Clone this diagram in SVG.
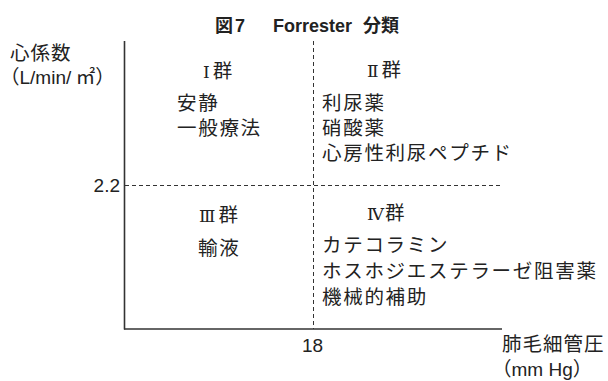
<svg xmlns="http://www.w3.org/2000/svg" width="608" height="381" viewBox="0 0 608 381">
<style>
text{font-family:"Liberation Sans","Noto Sans CJK JP",sans-serif;fill:#222;font-size:19px}
.jp{font-family:"Noto Sans CJK JP",sans-serif;font-size:19.5px;letter-spacing:1.7px}
.rn{font-family:"DejaVu Serif","Liberation Serif","Noto Sans CJK JP",serif;font-size:17px}
.title{font-weight:bold;font-size:18px}
.axis{stroke:#333;stroke-width:1.6;fill:none}
.dash{stroke:#333;stroke-width:1;stroke-dasharray:4 3;fill:none}
</style>
<rect width="608" height="381" fill="#fff"/>
<g id="title">
<text class="title" y="32"><tspan x="215" font-family="Noto Sans CJK JP, sans-serif">図</tspan><tspan x="235">7</tspan><tspan x="273">Forrester</tspan><tspan x="363" font-family="Noto Sans CJK JP, sans-serif">分類</tspan></text>
</g>
<g id="connectors">
<line class="dash" x1="313.5" y1="41" x2="313.5" y2="329"/>
<line class="dash" x1="125" y1="185.5" x2="502" y2="185.5"/>
<line class="axis" x1="124.5" y1="41" x2="124.5" y2="329.5"/>
<line class="axis" x1="124" y1="329" x2="502" y2="329"/>
</g>
<g id="y-axis-label">
<text class="jp" x="10" y="60" style="letter-spacing:1px">心係数</text>
<text class="jp" x="0" y="84" style="letter-spacing:0">（<tspan font-family="Liberation Sans" font-size="19">L/min/</tspan> ㎡）</text>
<text x="120" y="192" text-anchor="end">2.2</text>
</g>
<g id="x-axis-label">
<text x="302" y="352">18</text>
<text class="jp" x="502" y="351" style="letter-spacing:1px">肺毛細管圧</text>
<text class="jp" x="492" y="376" style="letter-spacing:0">（<tspan font-family="Liberation Sans" font-size="19">mm Hg</tspan>）</text>
</g>
<g id="group1">
<text x="203" y="78"><tspan class="rn">Ⅰ</tspan><tspan class="jp" dx="3">群</tspan></text>
<text class="jp" x="177" y="110">安静</text>
<text class="jp" x="177" y="135">一般療法</text>
</g>
<g id="group2">
<text x="367" y="77"><tspan class="rn">Ⅱ</tspan><tspan class="jp" dx="3">群</tspan></text>
<text class="jp" x="322" y="110">利尿薬</text>
<text class="jp" x="322" y="135">硝酸薬</text>
<text class="jp" x="322" y="160">心房性利尿ペプチド</text>
</g>
<g id="group3">
<text x="199" y="222"><tspan class="rn">Ⅲ</tspan><tspan class="jp" dx="3">群</tspan></text>
<text class="jp" x="198" y="255">輸液</text>
</g>
<g id="group4">
<text x="367" y="220"><tspan class="rn">Ⅳ</tspan><tspan class="jp" dx="1">群</tspan></text>
<text class="jp" x="322" y="252">カテコラミン</text>
<text class="jp" x="322" y="278">ホスホジエステラーゼ阻害薬</text>
<text class="jp" x="322" y="304">機械的補助</text>
</g>
</svg>
